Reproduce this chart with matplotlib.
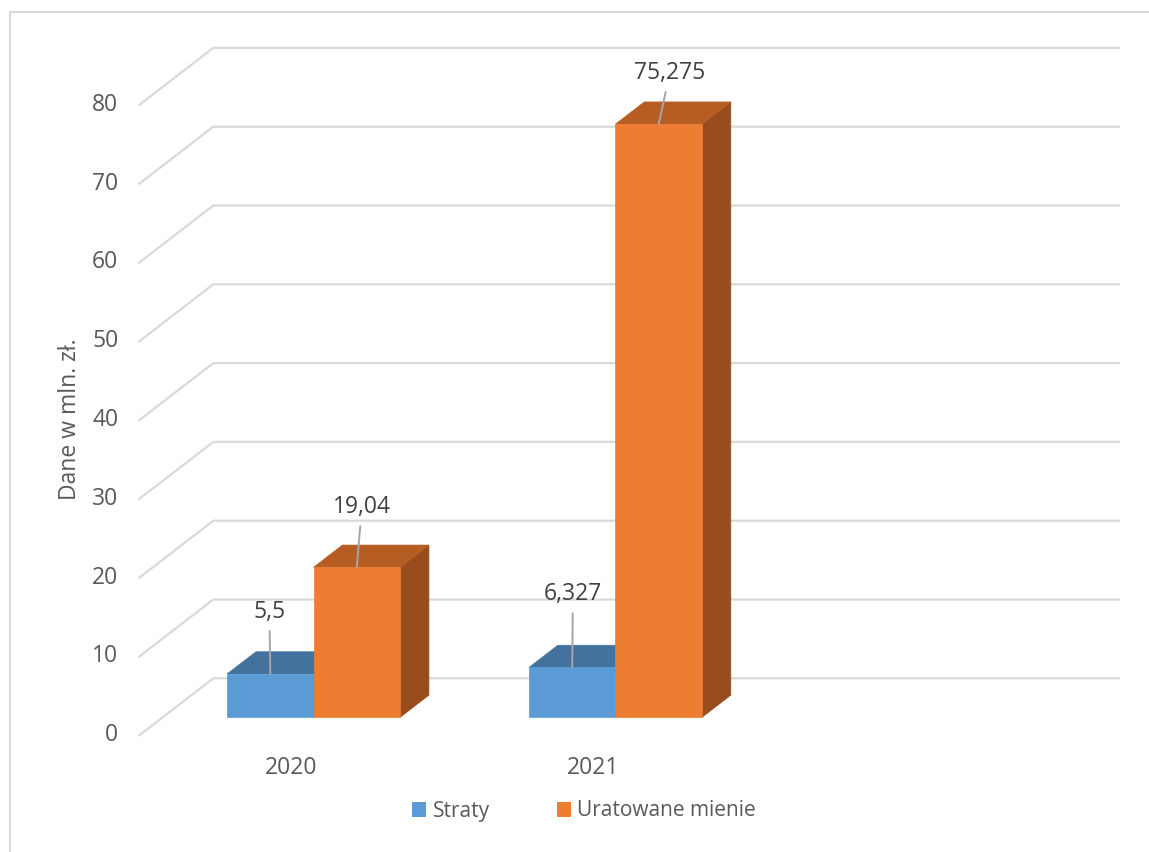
import matplotlib
matplotlib.use("Agg")
import matplotlib.pyplot as plt
from matplotlib.patches import Polygon, Rectangle, Patch
from matplotlib.lines import Line2D
import matplotlib.transforms as mtransforms

# ---------------- data ----------------
categories = ["2020", "2021", ""]
series_names = ["Straty", "Uratowane mienie"]
straty = [5.5, 6.327, None]
uratowane = [19.04, 75.275, None]
straty_labels = ["5,5", "6,327", ""]
uratowane_labels = ["19,04", "75,275", ""]
yticks = [0, 10, 20, 30, 40, 50, 60, 70, 80]
ylabel = "Dane w mln. zł."

# ---------------- style ----------------
front_colors = ["#5B9BD5", "#ED7D31"]
top_colors = ["#44729F", "#B65D23"]
side_colors = ["#3B6690", "#994D1E"]
grid_color = "#D9D9D9"
text_color = "#595959"
label_color = "#404040"
FONT = ["Open Sans", "DejaVu Sans"]
plt.rcParams["font.family"] = FONT

W, H = 1149, 852
X0, Y0 = 139.3, 735.3        # front-left corner of floor (value 0) in px
RIGHT, TOP = 1119.0, 40.0
CAT_PX = 301.9               # px per category
KY = 7.88                    # px per value unit
DEPTH_PX = (74.0, 57.0)      # full depth offset in px (right, up)
BAR_PX = 86.5
D0, D1 = 0.315, 0.705        # bar depth range (fraction of full depth)
# manual data-label offsets per series, per category (px, relative to bar front-top centre)
label_offsets = [[(-1, 62), (0.7, 73)], [(5, 60), (11, 51)]]

fig = plt.figure(figsize=(W / 100, H / 100), dpi=100)
ax = fig.add_axes([X0 / W, 1 - Y0 / H, (RIGHT - X0) / W, (Y0 - TOP) / H])
ax.set_xlim(-0.5, -0.5 + (RIGHT - X0) / CAT_PX)
ax.set_ylim(0, (Y0 - TOP) / KY)
ax.axis("off")

ddx = DEPTH_PX[0] / CAT_PX
ddy = DEPTH_PX[1] / KY
ncat = len(categories)
bw = BAR_PX / CAT_PX

# gridlines (floor diagonal + back wall)
for t in yticks:
    ax.plot([-0.5, -0.5 + ddx, -0.5 + ddx + ncat], [t, t + ddy, t + ddy],
            color=grid_color, lw=1.6, clip_on=False, zorder=1,
            solid_joinstyle="miter")

tick_tr = mtransforms.offset_copy(ax.transData, fig=fig, x=-21, y=0, units="dots")
for t in yticks:
    ax.text(-0.5, t, str(t), transform=tick_tr, ha="right", va="center",
            fontsize=16.5, color=text_color)

cat_tr = mtransforms.offset_copy(ax.transData, fig=fig, x=1, y=-33, units="dots")
for i, c in enumerate(categories):
    ax.text(i, 0, c, transform=cat_tr, ha="center", va="center",
            fontsize=16.5, color=text_color)

fig.text(69.5 / W, 1 - 419 / H, ylabel, rotation=90, ha="center", va="center",
         fontsize=16.5, color=text_color)

# bars
series = [straty, uratowane]
labels = [straty_labels, uratowane_labels]
bd = D1 - D0
z = 5
for i in range(ncat):
    for j, vals in enumerate(series):
        v = vals[i]
        if v is None:
            continue
        xl = i - bw + j * bw + D0 * ddx
        xr = xl + bw
        yb = D0 * ddy
        yt = v + D0 * ddy
        ex, ey = bd * ddx, bd * ddy
        side = Polygon([(xr, yb), (xr + ex, yb + ey), (xr + ex, yt + ey), (xr, yt)],
                       closed=True, facecolor=side_colors[j], edgecolor=side_colors[j],
                       lw=0.5, zorder=z, clip_on=False)
        top = Polygon([(xl, yt), (xr, yt), (xr + ex, yt + ey), (xl + ex, yt + ey)],
                      closed=True, facecolor=top_colors[j], edgecolor=top_colors[j],
                      lw=0.5, zorder=z, clip_on=False)
        front = Rectangle((xl, yb), bw, v, facecolor=front_colors[j],
                          edgecolor=front_colors[j], lw=0.5, zorder=z + 0.5, clip_on=False)
        for p in (side, top, front):
            ax.add_patch(p)
        z += 1

# data labels (drawn after bars)
for j, vals in enumerate(series):
    for i, v in enumerate(vals):
        if v is None:
            continue
        xc = i - bw + j * bw + D0 * ddx + bw / 2
        yt = v + D0 * ddy
        ox, oy = label_offsets[j][i]
        ax.annotate(labels[j][i], xy=(xc, yt), xytext=(ox, oy),
                    textcoords="offset pixels", ha="center", va="center",
                    fontsize=16.5, color=label_color, zorder=50,
                    arrowprops=dict(arrowstyle="-", color="#A6A6A6", lw=1.4,
                                    shrinkA=3, shrinkB=0),
                    annotation_clip=False)

# legend
handles = [Patch(facecolor=front_colors[k], edgecolor="none") for k in range(2)]
fig.legend(handles, series_names, loc="center", bbox_to_anchor=(584 / W, 1 - 811 / H),
           ncol=2, frameon=False, fontsize=15, handlelength=0.7, handleheight=0.7,
           handletextpad=0.3, columnspacing=3.2, labelcolor=text_color,
           borderpad=0, borderaxespad=0)

# chart area border (top and left visible)
fig.add_artist(Line2D([9.5 / W, 9.5 / W, 1.0], [0.0, 1 - 12.3 / H, 1 - 12.3 / H],
                      transform=fig.transFigure, color=grid_color, lw=1.5))

fig.savefig("out.png", dpi=100)
